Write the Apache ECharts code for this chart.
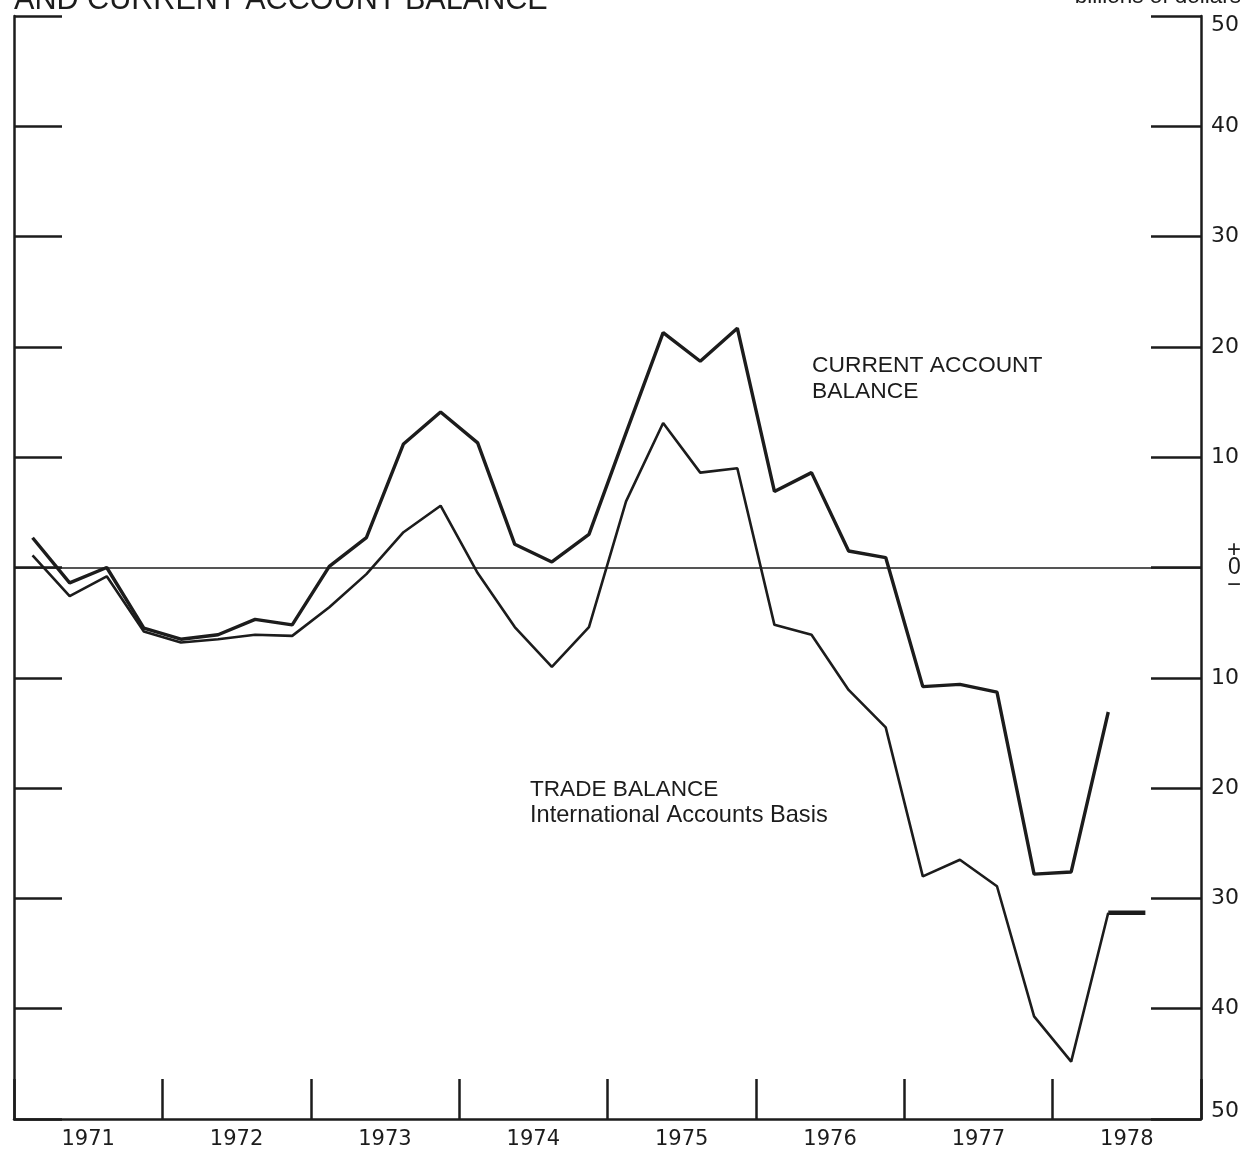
<!DOCTYPE html>
<html>
<head>
<meta charset="utf-8">
<script src="https://cdn.jsdelivr.net/npm/echarts@6/dist/echarts.min.js"></script>
<style>
html,body{margin:0;padding:0;background:#fff;}
#c{width:1249px;height:1153px;}
</style>
</head>
<body>
<div id="c"></div>
<script>
// Years on the time axis (quarterly data, 4 quarters per year)
var years = ['1971','1972','1973','1974','1975','1976','1977','1978'];
// Right-hand tick labels (billions of dollars, absolute values)
var yTicks = [-50,-40,-30,-20,-10,0,10,20,30,40,50];
// Current account balance, quarterly, 1971 Q1 - 1978 Q2 (billions of dollars, annual rate)
var currentAccount = [2.7,-1.4,0.0,-5.5, -6.5,-6.1,-4.7,-5.2, 0.1,2.7,11.2,14.1, 11.3,2.1,0.5,3.0,
  12.2,21.3,18.7,21.7, 6.9,8.6,1.5,0.9, -10.8,-10.6,-11.3,-27.8, -27.6,-13.1];
// Trade balance, international accounts basis, 1971 Q1 - 1978 Q2
var tradeBalance = [1.1,-2.6,-0.8,-5.8, -6.8,-6.5,-6.1,-6.2, -3.6,-0.6,3.2,5.6, -0.5,-5.4,-9.0,-5.4,
  6.0,13.1,8.6,9.0, -5.2,-6.1,-11.1,-14.5, -28.0,-26.5,-28.9,-40.7, -44.8,-31.3];
// Trade balance extension (1978 Q2 - Q3, drawn heavy)
var tradeExt = [{q:29, v:-31.3},{q:30, v:-31.3}];

function toPts(arr){ return arr.map(function(v,i){ return [i+0.5, v]; }); }
var ink = '#1c1c1c';
var FF = 'Liberation Sans, Arial, sans-serif';
var FN = 'DejaVu Sans, sans-serif';
var chart = echarts.init(document.getElementById('c'), null, {renderer:'canvas'});
chart.setOption({
  animation:false,
  backgroundColor:'#ffffff',
  grid:{left:14, right:48, top:16, bottom:34, containLabel:false, outerBoundsMode:'none'},
  xAxis:[{
    type:'value', min:0, max:32, interval:4, position:'bottom',
    axisLine:{show:true, onZero:false, lineStyle:{color:ink, width:2.5}},
    axisTick:{show:true, inside:true, length:40, lineStyle:{color:ink, width:2.5}},
    axisLabel:{show:false}, splitLine:{show:false}
  },{
    type:'value', min:0, max:32, interval:2, position:'bottom',
    axisLine:{show:false, onZero:false}, axisTick:{show:false}, splitLine:{show:false},
    axisLabel:{show:true, margin:10, fontSize:21, color:ink, fontFamily:FN,
      formatter:function(v){ return ((v-2)%4===0) ? years[(v-2)/4] : ''; }}
  }],
  yAxis:[{
    type:'value', min:-50, max:50, interval:10, position:'left',
    axisLine:{show:true, onZero:false, lineStyle:{color:ink, width:2.5}},
    axisTick:{show:true, inside:true, length:48, lineStyle:{color:ink, width:2.5}},
    axisLabel:{show:false}, splitLine:{show:false}
  },{
    type:'value', min:-50, max:50, interval:10, position:'right',
    axisLine:{show:true, onZero:false, lineStyle:{color:ink, width:2.5}},
    axisTick:{show:true, inside:true, length:50, lineStyle:{color:ink, width:2.5}},
    splitLine:{show:false},
    axisLabel:{show:true, margin:10, color:ink, fontSize:22, fontFamily:FN,
      formatter:function(v){
        if (yTicks.indexOf(v) < 0) return '';
        if (v === 50) return '{t|50}';
        if (v === -50) return '{b|50}';
        if (v === 0) return '{p|+}\n{z|0}\n{p|\u2212}';
        return '{n|' + Math.abs(v) + '}';
      },
      rich:{
        n:{fontSize:22, color:ink, fontFamily:FN},
        t:{fontSize:22, color:ink, fontFamily:FN, padding:[18,0,0,0]},
        b:{fontSize:22, color:ink, fontFamily:FN, padding:[0,0,16,0]},
        p:{fontSize:24, color:ink, fontFamily:FF, lineHeight:17, padding:[0,0,0,16]},
        z:{fontSize:23, color:ink, fontFamily:FF, lineHeight:18, padding:[0,0,0,17]}
      }
    }
  }],
  series:[{
    name:'Current account', type:'line', xAxisIndex:0, yAxisIndex:0,
    data:toPts(currentAccount), symbol:'none', showSymbol:false,
    lineStyle:{color:ink, width:3.4}, z:5,
    markLine:{silent:true, symbol:['none','none'], label:{show:false},
      lineStyle:{color:ink, width:1.6, type:'solid'}, data:[{yAxis:0}]}
  },{
    name:'Trade balance', type:'line', xAxisIndex:0, yAxisIndex:0,
    data:toPts(tradeBalance), symbol:'none', showSymbol:false,
    lineStyle:{color:ink, width:2.6}, z:5
  },{
    name:'Trade ext', type:'line', xAxisIndex:0, yAxisIndex:0,
    data:tradeExt.map(function(d){ return [d.q+0.5, d.v]; }), symbol:'none', showSymbol:false,
    lineStyle:{color:ink, width:4.5}, z:5
  }],
  graphic:[
    {type:'text', left:14, top:-15, style:{text:'AND CURRENT ACCOUNT BALANCE', fontSize:30.6, fill:ink, fontFamily:FF}},
    {type:'text', right:8, top:-15, style:{text:'billions of dollars', fontSize:22.5, fill:ink, fontFamily:FF}},
    {type:'text', left:812, top:353, style:{text:'CURRENT ACCOUNT\nBALANCE', fontSize:22.8, lineHeight:26, fill:ink, fontFamily:FF}},
    {type:'text', left:530, top:778, style:{text:'{a|TRADE BALANCE}\n{b|International Accounts Basis}', fill:ink, fontFamily:FF,
      rich:{a:{fontSize:22.6, lineHeight:26, fontFamily:FF, fill:ink}, b:{fontSize:23.6, lineHeight:26, fontFamily:FF, fill:ink}}}}
  ]
});
</script>
</body>
</html>
